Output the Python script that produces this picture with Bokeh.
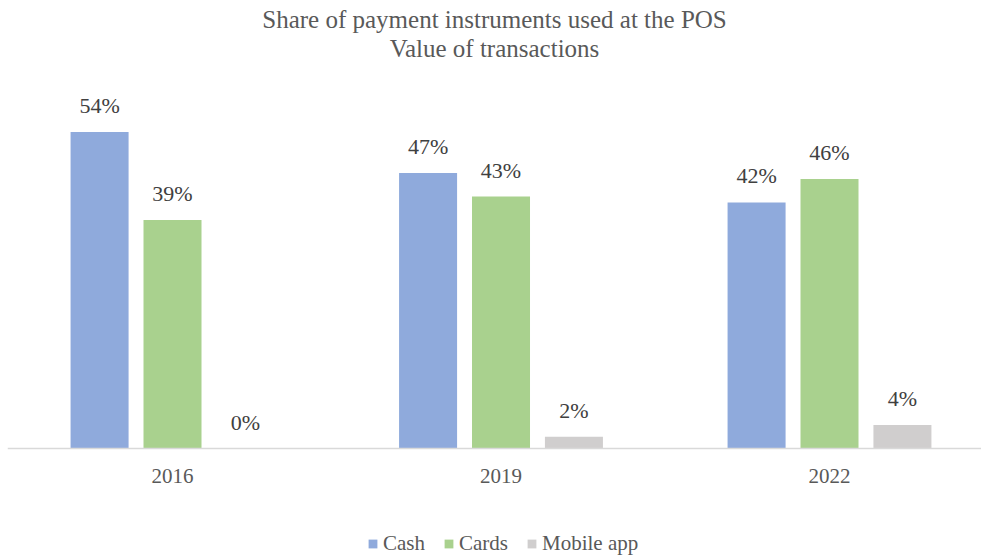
import numpy as np
from bokeh.plotting import figure
from bokeh.models import ColumnDataSource, Range1d, Title, Legend, LegendItem, LabelSet, Span
from bokeh.transform import dodge
from bokeh.embed import file_html
from bokeh.resources import INLINE

years = ["2016", "2019", "2022"]
series = ["Cash", "Cards", "Mobile app"]
cash = [54, 47, 42]
cards = [39, 43, 46]
mobile = [0, 2, 4]
colors = ["#8FAADC", "#A9D18E", "#D0CECE"]

FONT = "Liberation Serif"
TXT = "#404040"
TXT2 = "#595959"

xs = list(range(len(years)))
src = ColumnDataSource(dict(
    x=xs, year=years, base=[0] * len(years),
    cash=cash, cards=cards, mobile=mobile,
    cash_l=[f"{v}%" for v in cash],
    cards_l=[f"{v}%" for v in cards],
    mobile_l=[f"{v}%" for v in mobile],
))

TOP = 61
PX_PER = 5.86
y_top = (448 - TOP) / PX_PER
y_bot = -(558 - 448) / PX_PER

p = figure(width=981, height=558, output_backend="svg", toolbar_location=None,
           x_range=Range1d(-0.5023, 2.4627), y_range=Range1d(y_bot, y_top),
           min_border_left=7, min_border_right=0, min_border_top=TOP, min_border_bottom=0)
p.title = None
p.add_layout(Title(text="Value of transactions", align="center", text_font=FONT,
                   text_font_size="25px", text_font_style="normal", text_color=TXT2,
                   standoff=0), "above")
p.add_layout(Title(text="Share of payment instruments used at the POS", align="center",
                   text_font=FONT, text_font_size="25px", text_font_style="normal",
                   text_color=TXT2, standoff=0), "above")

w = 0.1766
off = 0.222
keys = ["cash", "cards", "mobile"]
renderers = []
for k, o, c in zip(keys, [-off, 0, off], colors):
    r = p.vbar(x=dodge("x", o, range=p.x_range), top=k, bottom=0, width=w, source=src,
               fill_color=c, line_color=None)
    renderers.append(r)
    lbl = LabelSet(x=dodge("x", o, range=p.x_range), y=k, text=k + "_l", source=src,
                   text_align="center", text_baseline="bottom", y_offset=14,
                   text_font=FONT, text_font_size="22px", text_color=TXT)
    p.add_layout(lbl)

# category axis: baseline and year labels
p.add_layout(Span(location=0, dimension="width", line_color="#D9D9D9", line_width=1.5))
p.add_layout(LabelSet(x="x", y="base", text="year", source=src, text_align="center",
                      text_baseline="middle", y_offset=-27, text_font=FONT,
                      text_font_size="21px", text_color=TXT2))

p.xaxis.visible = False
p.yaxis.visible = False
p.xgrid.visible = False
p.ygrid.visible = False
p.outline_line_color = None

legend = Legend(items=[LegendItem(label=s, renderers=[r]) for s, r in zip(series, renderers)],
                orientation="horizontal", location=(360, 2),
                label_text_font=FONT, label_text_font_size="21px", label_text_color=TXT2,
                glyph_width=11, glyph_height=11, label_standoff=5, spacing=18,
                border_line_color=None, background_fill_alpha=0, margin=0, padding=0)
p.add_layout(legend, "center")

html = file_html(p, INLINE)
open("out.html", "w").write(html)
